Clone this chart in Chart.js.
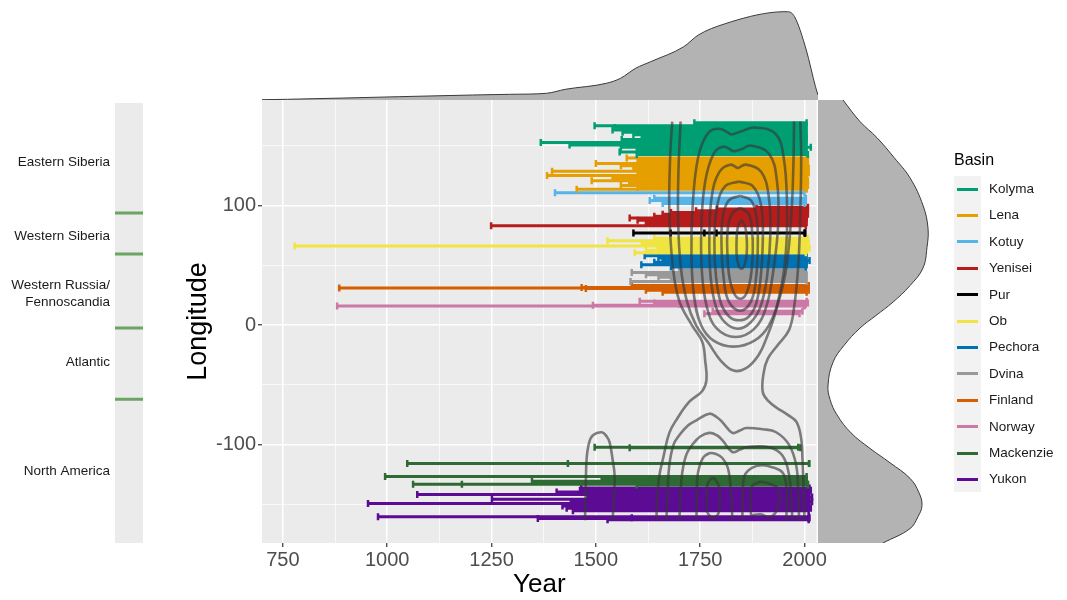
<!DOCTYPE html>
<html><head><meta charset="utf-8">
<script src="https://cdn.jsdelivr.net/npm/chart.js@4.4.0/dist/chart.umd.min.js"></script>
<style>
body{margin:0;background:#fff;}
#wrap{position:relative;width:1067px;height:600px;overflow:hidden;font-family:"Liberation Sans",Arial,sans-serif;}
#wrap canvas{position:absolute;}
#legend{position:absolute;left:0;top:0;width:1067px;height:600px;pointer-events:none;}
.lg-title{position:absolute;left:954px;top:150px;font-size:16px;color:#000;line-height:20px;}
.lg-bg{position:absolute;left:954px;top:176px;width:27px;height:316px;background:#F2F2F2;}
.lg-key{position:absolute;left:957px;width:21px;height:3px;}
.lg-lab{position:absolute;left:989px;font-size:13.5px;color:#1A1A1A;line-height:16px;}
</style></head><body>
<div id="wrap">
<canvas id="strip" width="143" height="443" style="left:0;top:100px"></canvas>
<canvas id="topd" width="556" height="100" style="left:262px;top:0"></canvas>
<canvas id="rightd" width="122" height="443" style="left:818px;top:100px"></canvas>
<canvas id="main" width="650" height="600" style="left:178px;top:0"></canvas>
<div id="legend"></div>
</div>
<script>
// ---------- data: chronologies [start year, end year, longitude] ----------
const kolyma = [[1736,2005,169],[1497,2005,166.5],[1545,2003,165],[1540,2003,163],[1564,2005,161],[1590,2003,159],[1610,2005,157],[1562,2005,155],[1368,2003,152.5],[1437,2005,150.5],[1560,2015,148.5],[1598,2005,146.5],[1557,2003,144.5],[1598,2008,142.5]];
const lena = [[1574,2005,139.5],[1600,2008,137.5],[1500,2005,135],[1560,2008,133],[1590,2010,131],[1395,2008,128.5],[1600,2010,127],[1383,2005,125],[1540,2005,123],[1490,2008,120.5],[1580,2005,118.5],[1560,2008,116.5],[1600,2005,115],[1454,2005,113.5]];
const kotuy = [[1402,2000,110.5],[1640,2003,106],[1629,2003,104],[1660,2000,101.5]];
const yenisei = [[1885,2008,98.5],[1790,2008,97],[1740,2005,95.5],[1680,2005,94],[1660,2008,92.5],[1640,2005,91],[1581,2005,89.5],[1600,2003,87.5],[1620,2005,85.5],[1249,2003,83]];
const pur = [[1590,2001,77],[1679,2001,77],[1760,2001,77],[1789,2001,77]];
const ob = [[1640,2008,72.5],[1528,2008,70.5],[1610,2010,68.5],[778,2005,66],[1648,2012,64],[1620,2006,62.5],[1593,2003,60.5]];
const pechora = [[1617,2005,58],[1650,2003,56],[1660,2012,54],[1640,2005,52.5],[1609,2005,50.5],[1680,2003,48.5]];
const dvina = [[1700,2003,46],[1586,2003,44],[1620,2005,42],[1650,2003,40],[1680,2003,38.5],[1583,2005,36.5]];
const finland = [[1586,2010,33],[1466,2008,31.5],[885,2005,31],[1476,2008,30.5],[1620,2010,29],[1660,2005,27.5]];
const norway = [[1605,2005,20],[1640,2008,18.5],[1700,2003,17.5],[880,2000,16],[1493,2000,16.5],[1780,1995,11.5],[1760,1988,9.5]];
const mackenzie = [[1497,1985,-102],[1581,1990,-102.5],[1048,2011,-115.5],[1433,2011,-115.5],[995,2005,-126.5],[1514,2005,-128.5],[1528,2005,-129],[1347,2003,-130.5],[1062,2008,-133],[1179,2008,-133],[1598,2008,-133.5]];
const yukon = [[1465,2012,-136],[1462,2015,-138],[1406,2012,-139.5],[1072,2010,-141.5],[1480,2018,-143.5],[1251,2012,-145.5],[1440,2018,-147.5],[954,2010,-149],[1420,2012,-151],[1430,2015,-153],[1445,2010,-155],[978,2010,-160],[1361,2010,-161.5],[1528,2010,-162.5],[1586,2012,-161]];

const basinNames = ['Kolyma','Lena','Kotuy','Yenisei','Pur','Ob','Pechora','Dvina','Finland','Norway','Mackenzie','Yukon'];
const basinSegs = [kolyma,lena,kotuy,yenisei,pur,ob,pechora,dvina,finland,norway,mackenzie,yukon];
const basinColors = ['#009E73','#E69F00','#56B4E9','#B71C1C','#000000','#F0E442','#0072B2','#999999','#D55E00','#CC79A7','#2E6A33','#5C0B94'];

// ---------- 2D density contours [year, longitude] ----------
const ring0 = [[1849,88],[1840,82],[1837,67],[1839,54],[1849,47],[1859,54],[1862,67],[1858,82],[1849,88]];
const ring1 = [[1846,98],[1826,93],[1816,80],[1815,62],[1820,40],[1832,26],[1846,22],[1860,26],[1871,40],[1876,62],[1874,80],[1866,93],[1846,98]];
const ring2 = [[1846,108],[1818,104],[1804,90],[1801,67],[1806,40],[1818,20],[1846,12],[1872,20],[1884,40],[1888,67],[1885,90],[1872,104],[1846,108]];
const ring3 = [[1843,120],[1810,116],[1791,100],[1784,70],[1788,40],[1800,18],[1820,7],[1843,4],[1866,7],[1884,18],[1895,40],[1900,70],[1896,100],[1876,116],[1843,120]];
const ring4 = [[1840,131],[1822,134],[1796,128],[1778,108],[1772,75],[1775,40],[1788,15],[1810,2],[1840,-3],[1870,2],[1894,15],[1910,40],[1918,75],[1914,108],[1896,128],[1860,134],[1840,131]];
const ring5 = [[1830,145],[1805,149],[1782,143],[1762,120],[1753,85],[1754,45],[1766,15],[1790,-3],[1835,-10],[1880,-3],[1908,15],[1925,45],[1937,85],[1934,120],[1915,143],[1870,150],[1850,147],[1830,145]];
const ring6 = [[1825,159],[1795,164],[1768,160],[1745,140],[1732,100],[1729,60],[1735,25],[1752,0],[1782,-13],[1830,-18],[1880,-13],[1915,0],[1940,25],[1955,60],[1958,100],[1950,140],[1930,160],[1880,165],[1850,162],[1825,159]];
const ring7 = [[1703,170],[1698,130],[1697,90],[1703,50],[1718,20],[1740,0],[1770,-15],[1800,-30],[1830,-38],[1860,-36],[1890,-25],[1912,-8],[1930,10],[1955,45],[1968,90],[1973,130],[1975,170]];
const outerLeft = [[1683,170],[1678,140],[1676,96],[1684,50],[1700,20],[1730,0],[1755,-14],[1762,-30],[1765,-46],[1755,-55],[1724,-64],[1695,-78],[1676,-90],[1662,-110],[1652,-126],[1647,-145],[1645,-163]];
const outerRight = [[1990,170],[1992,140],[1990,96],[1985,50],[1975,15],[1963,-4],[1935,-17],[1912,-28],[1902,-40],[1900,-56],[1915,-64],[1933,-69],[1960,-75],[1981,-81],[1992,-95],[1995,-111],[1998,-140],[2000,-163]];
const lowA = [[1669,-163],[1672,-140],[1676,-117],[1686,-100],[1700,-92],[1720,-84],[1741,-79.5],[1772,-74],[1790,-77],[1803,-81],[1827,-90],[1845,-88],[1860,-86],[1900,-87],[1932,-89.5],[1963,-100],[1980,-117],[1985,-140],[1987,-163]];
const lowB = [[1700,-163],[1703,-140],[1707,-123],[1717,-108],[1731,-100],[1750,-93],[1772,-90],[1790,-92],[1803,-96],[1827,-106],[1845,-104],[1860,-102],[1915,-102],[1947,-109],[1963,-125],[1968,-145],[1971,-163]];
const lowC = [[1741,-163],[1742,-140],[1744,-125],[1755,-112],[1772,-107],[1790,-108],[1803,-111],[1815,-118],[1820,-126],[1825,-145],[1827,-163]];
const lowD = [[1767,-157],[1766,-145],[1767,-134],[1774,-129],[1782,-128],[1790,-131],[1796,-136],[1797,-146],[1794,-157],[1780,-161],[1767,-157]];
const lowE = [[1851,-163],[1852,-145],[1856,-126],[1875,-119],[1899,-117],[1925,-119],[1947,-123],[1956,-133],[1958,-145],[1956,-163]];
const lowF = [[1872,-159],[1870,-148],[1872,-136],[1885,-132],[1899,-131],[1920,-133],[1935,-136],[1940,-148],[1930,-157],[1915,-160.5],[1895,-158],[1872,-159]];
const lowG = [[1474,-163],[1476,-130],[1478,-111],[1484,-98],[1493,-92],[1514,-89.5],[1526,-93],[1533,-98],[1540,-112],[1545,-126],[1543,-145],[1540,-163]];
const contours = [ring0,ring1,ring2,ring3,ring4,ring5,ring6,ring7,outerLeft,outerRight,lowA,lowB,lowC,lowD,lowE,lowF,lowG];

// ---------- marginal densities ----------
const topDensYear = [700,761,1026,1203,1292,1380,1425,1523,1557,1593,1629,1708,1743,1805,1930,1956,1973,2001,2023,2029];
const topDensVal  = [0.3,0.7,3.3,5,5.7,6.7,10.7,16.7,21.7,31.7,38.3,53.3,65,76,88,88.3,83.3,50,13.3,5];
const rightDensLon = [188,170,156.5,140,123,100,81,65,47.7,33,19.2,8,-2.5,-17,-31,-50,-62,-75,-90,-103,-115,-128,-140,-150.6,-160,-170,-182];
const rightDensVal = [25,42,59,76,92,105,110,109,105,92,75,58,42,26,15,10,12,19,33,52,72,92,101,104,100,92,65];

// ---------- axes ----------
const xMajorTicks = [750,1000,1250,1500,1750,2000];
const xMinorTicks = [875,1125,1375,1625,1875];
const yMajorTicks = [-100,0,100];
const yMinorTicks = [-150,-50,50,150];
const xRange = [700,2029];
const yRange = [-182,188];

// ---------- regions strip ----------
const regionNames = ['Eastern Siberia','Western Siberia','Western Russia/\nFennoscandia','Atlantic','North America'];
const regionCenters = [136.4,74.5,26.4,-31,-122];
const regionBounds = [93.7,59.4,-2.5,-62];

// ================= drawing =================
const FONT = '"Liberation Sans", Arial, sans-serif';
Chart.defaults.font.family = FONT;

const bgPlugin = {id:'bg', beforeDraw(chart, args, opts){
  const {ctx, chartArea:a} = chart; ctx.save(); ctx.fillStyle = opts.color || '#EBEBEB';
  ctx.fillRect(a.left, a.top, a.width, a.height); ctx.restore(); }};

function segPoints(segs){
  const pts = [];
  segs.forEach(([s,e,lon]) => { pts.push({x:s,y:lon},{x:e,y:lon},{x:e,y:null}); });
  return pts;
}

const datasets = [];
basinSegs.forEach((segs, i) => {
  datasets.push({
    data: segPoints(segs), borderColor: basinColors[i], borderWidth: 3,
    pointStyle: 'line', rotation: 90, pointRadius: 3.5, pointBorderWidth: 2.5,
    pointBorderColor: basinColors[i], pointBackgroundColor: basinColors[i],
    pointHoverRadius: 3.5, spanGaps: false, order: 1, borderCapStyle: 'butt'
  });
});
contours.forEach(c => {
  datasets.push({
    data: c.map(([x,y]) => ({x, y})), borderColor: 'rgba(55,55,55,0.62)', borderWidth: 2.6,
    pointRadius: 0, tension: 0.4, order: 0, fill: false
  });
});

const allX = [...xMajorTicks, ...xMinorTicks].sort((a,b)=>a-b);
const allY = [...yMajorTicks, ...yMinorTicks].sort((a,b)=>a-b);

new Chart(document.getElementById('main'), {
  type: 'line',
  data: {datasets},
  options: {
    responsive: false, animation: false, devicePixelRatio: 1,
    layout: {padding: {top: 100, right: 10, left: 0, bottom: 0}},
    plugins: {legend: {display: false}, tooltip: {enabled: false}, bg: {color: '#EBEBEB'}},
    scales: {
      x: {
        type: 'linear', min: xRange[0], max: xRange[1],
        afterBuildTicks: s => { s.ticks = allX.map(v => ({value: v})); },
        afterFit: s => { s.height = 57; },
        ticks: {autoSkip: false, maxRotation: 0, padding: 1, color: '#4D4D4D', font: {size: 20},
          callback: v => xMajorTicks.includes(v) ? String(v) : ''},
        grid: {color: '#FFFFFF', lineWidth: c => xMajorTicks.includes(c.tick && c.tick.value) ? 1.5 : 0.7,
          tickLength: 4, tickWidth: 1.2,
          tickColor: c => xMajorTicks.includes(c.tick && c.tick.value) ? '#333333' : 'rgba(0,0,0,0)'},
        border: {display: false},
        title: {display: true, text: 'Year', color: '#000', font: {size: 26}, padding: {top: 0, bottom: 0}}
      },
      y: {
        type: 'linear', min: yRange[0], max: yRange[1],
        afterBuildTicks: s => { s.ticks = allY.map(v => ({value: v})); },
        afterFit: s => { s.width = 84; },
        ticks: {autoSkip: false, padding: 2, color: '#4D4D4D', font: {size: 20},
          callback: v => yMajorTicks.includes(v) ? String(v) : ''},
        grid: {color: '#FFFFFF', lineWidth: c => yMajorTicks.includes(c.tick && c.tick.value) ? 1.5 : 0.7,
          tickLength: 4, tickWidth: 1.2,
          tickColor: c => yMajorTicks.includes(c.tick && c.tick.value) ? '#333333' : 'rgba(0,0,0,0)'},
        border: {display: false},
        title: {display: true, text: 'Longitude', color: '#000', font: {size: 27}, padding: {top: 4, bottom: 0}}
      }
    }
  },
  plugins: [bgPlugin]
});

// top marginal density
new Chart(document.getElementById('topd'), {
  type: 'line',
  data: {datasets: [{data: topDensYear.map((x,i) => ({x, y: topDensVal[i]})), borderColor: '#3A3A3A',
    borderWidth: 1, backgroundColor: '#B3B3B3', fill: 'origin', pointRadius: 0, cubicInterpolationMode: 'monotone'}]},
  options: {responsive: false, animation: false, devicePixelRatio: 1, layout: {padding: 0},
    plugins: {legend: {display: false}, tooltip: {enabled: false}},
    scales: {x: {type: 'linear', min: xRange[0], max: xRange[1], display: false},
             y: {type: 'linear', min: 0, max: 100, display: false}}}
});

// right marginal density
new Chart(document.getElementById('rightd'), {
  type: 'line',
  data: {datasets: [{data: rightDensLon.map((y,i) => ({x: rightDensVal[i], y})), borderColor: '#3A3A3A',
    borderWidth: 1, backgroundColor: '#B3B3B3', fill: 'origin', pointRadius: 0, tension: 0.4}]},
  options: {indexAxis: 'y', responsive: false, animation: false, devicePixelRatio: 1, layout: {padding: 0},
    plugins: {legend: {display: false}, tooltip: {enabled: false}},
    scales: {x: {type: 'linear', min: 0, max: 122, display: false},
             y: {type: 'linear', min: yRange[0], max: yRange[1], display: false}}}
});

// regions strip
const regionLabelPlugin = {id: 'regionLabels', afterDraw(chart){
  const {ctx, chartArea: a} = chart; const ys = chart.scales.y;
  ctx.save(); ctx.font = '13.5px ' + FONT; ctx.fillStyle = '#1A1A1A';
  ctx.textAlign = 'right'; ctx.textBaseline = 'middle';
  regionNames.forEach((n, i) => {
    const lines = n.split('\n'); const cy = ys.getPixelForValue(regionCenters[i]);
    lines.forEach((ln, k) => ctx.fillText(ln, a.left - 5, cy + (k - (lines.length - 1) / 2) * 17));
  });
  ctx.restore(); }};
const boundPts = [];
regionBounds.forEach(b => boundPts.push({x: 0, y: b}, {x: 1, y: b}, {x: 1, y: null}));
new Chart(document.getElementById('strip'), {
  type: 'line',
  data: {datasets: [{data: boundPts, borderColor: '#6AA563', borderWidth: 3, pointRadius: 0, spanGaps: false}]},
  options: {responsive: false, animation: false, devicePixelRatio: 1,
    layout: {padding: {left: 115, top: 3, right: 0, bottom: 0}},
    plugins: {legend: {display: false}, tooltip: {enabled: false}, bg: {color: '#EBEBEB'}},
    scales: {x: {type: 'linear', min: 0, max: 1, display: false},
             y: {type: 'linear', min: yRange[0] , max: yRange[1] - 2.5, display: false}}},
  plugins: [bgPlugin, regionLabelPlugin]
});

// legend
const lg = document.getElementById('legend');
let html = '<div class="lg-title">Basin</div><div class="lg-bg"></div>';
basinNames.forEach((n, i) => {
  const cy = 189 + i * 26.4;
  html += '<div class="lg-key" style="top:' + (cy - 1.5) + 'px;background:' + basinColors[i] + '"></div>';
  html += '<div class="lg-lab" style="top:' + (cy - 8) + 'px">' + n + '</div>';
});
lg.innerHTML = html;
</script>
</body></html>
